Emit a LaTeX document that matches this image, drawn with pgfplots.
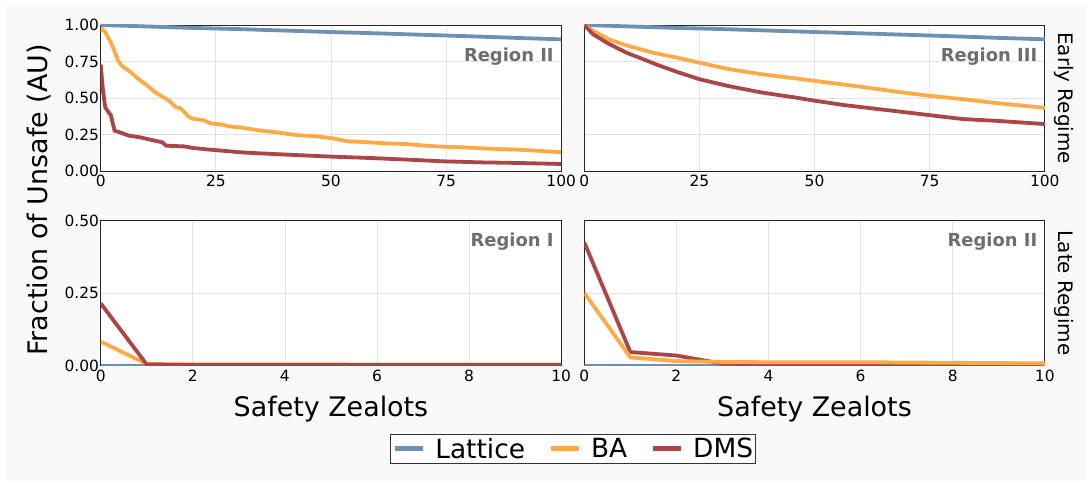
\documentclass[border=0pt]{standalone}
\usepackage{fontspec}
\setmainfont{DejaVu Sans}
\usepackage{pgfplots}
\pgfplotsset{compat=1.18}

\definecolor{cLat}{RGB}{111,145,177}
\definecolor{cBA}{RGB}{255,170,72}
\definecolor{cDMS}{RGB}{170,70,70}
\definecolor{bgc}{RGB}{249,249,249}
\definecolor{gridc}{RGB}{226,226,226}
\definecolor{regtxt}{RGB}{110,110,110}

\pgfplotsset{
  panel/.style={
    scale only axis, width=460.5bp,
    axis background/.style={fill=white},
    axis line style={black!85, line width=0.8bp},
    grid=major, major grid style={gridc, line width=0.8bp},
    major tick length=0pt,
    tick label style={font=\fontsize{15.5}{18}\selectfont},
    yticklabel style={inner xsep=1.5bp},
    xticklabel style={inner ysep=4bp},
    every axis plot/.append style={line width=3.8bp, line join=round, no markers},
  },
  toprow/.style={panel, height=146.3bp, xmin=0, xmax=100, ymin=0, ymax=1,
    xtick={0,25,50,75,100}, xticklabels={0,25,50,75,100},
    ytick={0,0.25,0.5,0.75,1}},
  botrow/.style={panel, height=145bp, xmin=0, xmax=10, ymin=0, ymax=0.5,
    xtick={0,2,4,6,8,10}, xticklabels={0,2,4,6,8,10},
    ytick={0,0.25,0.5}},
}
\newcommand{\reglabel}[2]{\node[anchor=east, font=\fontsize{18}{21}\bfseries, text=regtxt, inner sep=0pt] at (rel axis cs:0.984,#1) {#2};}

\begin{document}
\begin{tikzpicture}
\path[use as bounding box] (0,0) rectangle (1086bp,481bp);
\fill[bgc] (5bp,0) rectangle (1086bp,475bp);

% Top-left
\begin{axis}[toprow, at={(100.7bp,309.7bp)}, anchor=south west,
  yticklabels={0.00,0.25,0.50,0.75,1.00}]
\addplot[cLat] coordinates {(0,1)(10,0.99)(20,0.98)(30,0.972)(40,0.962)(50,0.952)(60,0.943)(70,0.933)(80,0.923)(90,0.912)(100,0.902)};
\addplot[cBA] coordinates {(0,0.98)(1,0.95)(2.2,0.88)(3,0.82)(3.8,0.755)(4.6,0.72)(6.2,0.686)(8.2,0.63)(10.2,0.584)(11.8,0.54)(13.4,0.51)(15,0.48)(16.2,0.44)(17.4,0.43)(19,0.375)(19.9,0.36)(22.3,0.35)(23.9,0.327)(26.3,0.32)(27.9,0.307)(30.3,0.30)(34.3,0.28)(38.3,0.266)(42.4,0.248)(46.4,0.24)(50.4,0.225)(53.6,0.205)(58.4,0.198)(62.5,0.19)(66.5,0.186)(70.5,0.175)(74.5,0.168)(78.5,0.164)(82.6,0.157)(86.6,0.152)(90.6,0.148)(94.6,0.141)(100,0.13)};
\addplot[cDMS] coordinates {(0,0.73)(0.5,0.55)(1,0.436)(1.8,0.40)(2.2,0.384)(3,0.277)(3.8,0.27)(6.2,0.243)(8.6,0.232)(10.2,0.22)(13.4,0.198)(14.2,0.175)(18.2,0.17)(19.9,0.16)(22.3,0.152)(26.3,0.141)(30.3,0.13)(34.3,0.123)(42.4,0.111)(50.4,0.10)(58.4,0.091)(66.5,0.08)(74.5,0.068)(82.6,0.061)(90.6,0.057)(100,0.05)};
\reglabel{0.786}{Region II}
\end{axis}

% Top-right
\begin{axis}[toprow, at={(584.3bp,309.7bp)}, anchor=south west, yticklabels={}]
\addplot[cLat] coordinates {(0,1)(10,0.99)(20,0.98)(30,0.972)(40,0.962)(50,0.952)(60,0.943)(70,0.933)(80,0.923)(90,0.912)(100,0.902)};
\addplot[cBA] coordinates {(0,1.0)(1.9,0.96)(5.5,0.90)(9.2,0.86)(15,0.81)(20.1,0.777)(24.9,0.743)(31.1,0.70)(38.4,0.664)(45.7,0.636)(50.1,0.618)(60.3,0.577)(67.6,0.545)(74.9,0.516)(82.2,0.493)(89.5,0.466)(100,0.434)};
\addplot[cDMS] coordinates {(0,1.0)(1.9,0.936)(5.5,0.868)(9.2,0.81)(12.8,0.766)(16.5,0.72)(20.1,0.68)(24.9,0.63)(31.1,0.584)(38.4,0.539)(45.7,0.505)(50.1,0.482)(56.6,0.452)(63.9,0.425)(71.2,0.398)(74.9,0.384)(82.2,0.357)(89.5,0.345)(100,0.323)};
\reglabel{0.786}{Region III}
\end{axis}

% Bottom-left
\begin{axis}[botrow, at={(100.7bp,115.3bp)}, anchor=south west,
  yticklabels={0.00,0.25,0.50}]
\addplot[cLat] coordinates {(0,0)(1,0)(2,0)(3,0)(4,0)(5,0)(6,0)(7,0)(8,0)(9,0)(10,0)};
\addplot[cBA] coordinates {(0,0.083)(1,0.006)(2,0.004)(3,0.004)(4,0.004)(5,0.004)(6,0.003)(7,0.003)(8,0.003)(9,0.003)(10,0.003)};
\addplot[cDMS] coordinates {(0,0.215)(1,0.004)(2,0.003)(3,0.003)(4,0.003)(5,0.003)(6,0.003)(7,0.003)(8,0.003)(9,0.003)(10,0.003)};
\reglabel{0.856}{Region I}
\end{axis}

% Bottom-right
\begin{axis}[botrow, at={(584.3bp,115.3bp)}, anchor=south west, yticklabels={},
  legend columns=3,
  legend style={at={(-0.0252,-0.574)}, anchor=center, draw=black!80, line width=1bp,
    fill=white, inner xsep=2bp, inner ysep=1.5bp,
    font=\fontsize{26.5}{30}\selectfont,
    nodes={inner xsep=0bp, inner ysep=2bp},
    /tikz/every odd column/.append style={column sep=10bp},
    /tikz/every even column/.append style={column sep=23bp}},
  legend image code/.code={\draw[line width=5bp] (0bp,0bp) -- (28bp,0bp);}]
\addplot[cLat] coordinates {(0,0)(1,0)(2,0)(3,0)(4,0)(5,0)(6,0)(7,0)(8,0)(9,0)(10,0)};
\addlegendentry{Lattice}
\addplot[cDMS, forget plot] coordinates {(0,0.425)(1,0.047)(2,0.035)(3,0.007)(4,0.005)(5,0.005)(6,0.005)(7,0.004)(8,0.004)(9,0.004)(10,0.004)};
\addplot[cBA] coordinates {(0,0.251)(1,0.0285)(2,0.016)(3,0.013)(4,0.012)(5,0.012)(6,0.012)(7,0.011)(8,0.010)(9,0.009)(10,0.008)};
\addlegendentry{BA}
\addlegendimage{cDMS}
\addlegendentry{DMS}
\reglabel{0.856}{Region II}
\end{axis}

% Labels
\node[rotate=90, anchor=base, font=\fontsize{27}{32}\selectfont] at (47.3bp,281bp) {Fraction of Unsafe (AU)};
\node[anchor=base, font=\fontsize{27}{32}\selectfont] at (331bp,64.3bp) {Safety Zealots};
\node[anchor=base, font=\fontsize{27}{32}\selectfont] at (814.5bp,64.3bp) {Safety Zealots};
\node[rotate=-90, font=\fontsize{20}{24}\selectfont] at (1064bp,382.8bp) {Early Regime};
\node[rotate=-90, font=\fontsize{20}{24}\selectfont] at (1064bp,187.8bp) {Late Regime};
\end{tikzpicture}
\end{document}
